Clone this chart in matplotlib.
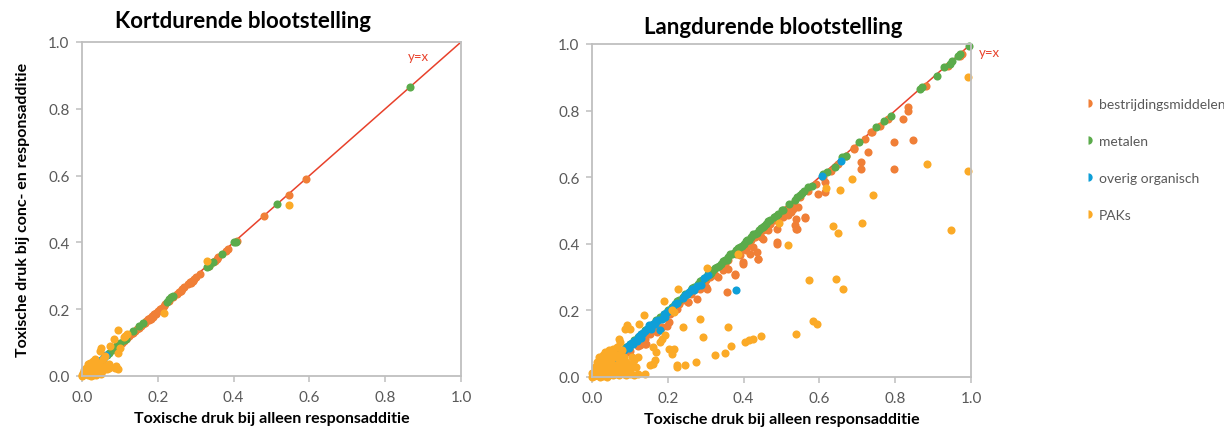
import matplotlib.pyplot as plt
from matplotlib.lines import Line2D

# kleuren (Excel-achtig)
C_BEST = '#F07F37'
C_MET = '#5BAB4B'
C_ORG = '#0E9FD8'
C_PAK = '#FBAA27'
C_LINE = '#E8412B'
GRID_GREY = '#BFBFBF'
TXT_GREY = '#595959'

series_names = ['bestrijdingsmiddelen', 'metalen', 'overig organisch', 'PAKs']
ticks = [0.0, 0.2, 0.4, 0.6, 0.8, 1.0]
tick_labels = ['0.0', '0.2', '0.4', '0.6', '0.8', '1.0']

# ---- Kortdurende blootstelling: (responsadditie, conc- en responsadditie)
kort_best = [(0.100, 0.095), (0.105, 0.100), (0.110, 0.105), (0.115, 0.110), (0.120, 0.115),
             (0.125, 0.120), (0.130, 0.125), (0.135, 0.130), (0.140, 0.135), (0.145, 0.140),
             (0.150, 0.145), (0.155, 0.150), (0.160, 0.155), (0.165, 0.160), (0.170, 0.165),
             (0.175, 0.170), (0.180, 0.175), (0.182, 0.170), (0.185, 0.180), (0.190, 0.185),
             (0.195, 0.190), (0.200, 0.195), (0.205, 0.200), (0.210, 0.205), (0.215, 0.210),
             (0.220, 0.215), (0.230, 0.225), (0.240, 0.235), (0.250, 0.245), (0.255, 0.250),
             (0.260, 0.255), (0.265, 0.260), (0.270, 0.265), (0.280, 0.275), (0.285, 0.280),
             (0.290, 0.285), (0.295, 0.290), (0.300, 0.295), (0.310, 0.305), (0.335, 0.330),
             (0.345, 0.340), (0.350, 0.345), (0.355, 0.350), (0.360, 0.355), (0.380, 0.375),
             (0.385, 0.380), (0.410, 0.405), (0.480, 0.478), (0.545, 0.543), (0.590, 0.590),
             (0.188, 0.178), (0.178, 0.168), (0.195, 0.185), (0.287, 0.278), (0.292, 0.284)]
kort_met = [(0.865, 0.865), (0.515, 0.515), (0.400, 0.400), (0.405, 0.402), (0.370, 0.365),
            (0.345, 0.340), (0.335, 0.330), (0.330, 0.325), (0.240, 0.240), (0.235, 0.235),
            (0.230, 0.230), (0.225, 0.222), (0.160, 0.160), (0.150, 0.150), (0.135, 0.135),
            (0.115, 0.112), (0.110, 0.108), (0.100, 0.100), (0.090, 0.090), (0.080, 0.078),
            (0.070, 0.068), (0.065, 0.062)]
kort_org = [(0.062, 0.062), (0.058, 0.056), (0.055, 0.052), (0.050, 0.048), (0.047, 0.042),
            (0.043, 0.040), (0.040, 0.036), (0.037, 0.033), (0.033, 0.030), (0.030, 0.028),
            (0.027, 0.025), (0.024, 0.022)]
kort_pak = [(0.545, 0.512), (0.330, 0.345), (0.215, 0.190), (0.095, 0.137), (0.118, 0.125),
            (0.113, 0.120), (0.110, 0.118), (0.085, 0.112), (0.075, 0.090), (0.100, 0.085),
            (0.095, 0.068), (0.050, 0.085), (0.048, 0.075), (0.060, 0.060), (0.055, 0.050),
            (0.090, 0.030), (0.095, 0.022), (0.088, 0.025), (0.070, 0.035), (0.060, 0.030),
            (0.045, 0.040), (0.035, 0.050), (0.030, 0.045), (0.028, 0.038), (0.020, 0.040),
            (0.015, 0.035), (0.040, 0.025), (0.035, 0.020), (0.030, 0.015), (0.025, 0.020),
            (0.020, 0.015), (0.015, 0.020), (0.012, 0.010), (0.010, 0.015), (0.008, 0.005),
            (0.005, 0.008), (0.003, 0.002), (0.002, 0.010), (0.000, 0.003), (0.001, 0.000),
            (0.018, 0.005), (0.022, 0.008), (0.028, 0.010), (0.035, 0.008), (0.040, 0.012),
            (0.045, 0.015), (0.050, 0.005), (0.010, 0.025), (0.006, 0.018), (0.015, 0.002),
            (0.025, 0.000), (0.030, 0.003), (0.038, 0.003), (0.045, 0.020), (0.055, 0.018),
            (0.065, 0.020), (0.070, 0.025)]

# ---- Langdurende blootstelling
lang_best = [(0.100, 0.095), (0.120, 0.110), (0.130, 0.125), (0.150, 0.140), (0.160, 0.150),
             (0.170, 0.165), (0.190, 0.180), (0.200, 0.190), (0.210, 0.205), (0.230, 0.220),
             (0.240, 0.230), (0.260, 0.250), (0.270, 0.260), (0.290, 0.280), (0.300, 0.290),
             (0.310, 0.300), (0.320, 0.310), (0.340, 0.330), (0.350, 0.340), (0.360, 0.350),
             (0.380, 0.370), (0.390, 0.380), (0.400, 0.390), (0.410, 0.400), (0.420, 0.410),
             (0.430, 0.420), (0.440, 0.430), (0.450, 0.440), (0.460, 0.450), (0.470, 0.460),
             (0.480, 0.470), (0.490, 0.480), (0.500, 0.490), (0.510, 0.500), (0.520, 0.510),
             (0.530, 0.520), (0.550, 0.540), (0.570, 0.560), (0.590, 0.580), (0.610, 0.600),
             (0.630, 0.620), (0.650, 0.640), (0.670, 0.665), (0.690, 0.685), (0.720, 0.715),
             (0.740, 0.735), (0.760, 0.755), (0.780, 0.775), (0.880, 0.875), (0.940, 0.935),
             (0.970, 0.965), (0.975, 0.970),
             (0.833, 0.810), (0.833, 0.800), (0.820, 0.775), (0.796, 0.707), (0.846, 0.712),
             (0.796, 0.624), (0.728, 0.677), (0.710, 0.645), (0.710, 0.625), (0.737, 0.735),
             (0.690, 0.687), (0.614, 0.585), (0.595, 0.550), (0.614, 0.555), (0.563, 0.477),
             (0.544, 0.510), (0.530, 0.505), (0.539, 0.475), (0.535, 0.455), (0.541, 0.445),
             (0.518, 0.485), (0.487, 0.445), (0.489, 0.400), (0.434, 0.375), (0.438, 0.355),
             (0.425, 0.390), (0.452, 0.415), (0.399, 0.340), (0.390, 0.365), (0.377, 0.305),
             (0.360, 0.325), (0.355, 0.255), (0.333, 0.300), (0.303, 0.265), (0.276, 0.235),
             (0.254, 0.225), (0.202, 0.165), (0.184, 0.150), (0.154, 0.130), (0.142, 0.100),
             (0.127, 0.095), (0.092, 0.075), (0.398, 0.345), (0.416, 0.370), (0.437, 0.354),
             (0.487, 0.405), (0.539, 0.444), (0.561, 0.480), (0.376, 0.309), (0.302, 0.270),
             (0.253, 0.225), (0.197, 0.153), (0.205, 0.190), (0.179, 0.174), (0.140, 0.114),
             (0.121, 0.093), (0.100, 0.078), (0.139, 0.099), (0.171, 0.135),
             (0.465, 0.440), (0.505, 0.480), (0.525, 0.495), (0.445, 0.420), (0.405, 0.380),
             (0.345, 0.320), (0.325, 0.305), (0.285, 0.265), (0.225, 0.205)]
lang_met = [(0.995, 0.995), (0.970, 0.970), (0.965, 0.965), (0.950, 0.950), (0.945, 0.940),
            (0.930, 0.930), (0.910, 0.905), (0.870, 0.870), (0.865, 0.865), (0.790, 0.785),
            (0.770, 0.770), (0.750, 0.750), (0.705, 0.705), (0.670, 0.665), (0.660, 0.660),
            (0.640, 0.630), (0.620, 0.615), (0.610, 0.610), (0.580, 0.575), (0.570, 0.570),
            (0.560, 0.560), (0.550, 0.548), (0.540, 0.540), (0.520, 0.520), (0.500, 0.500),
            (0.490, 0.490), (0.480, 0.480), (0.470, 0.470), (0.460, 0.460), (0.450, 0.450),
            (0.440, 0.440), (0.430, 0.430), (0.420, 0.420), (0.410, 0.410), (0.400, 0.400),
            (0.390, 0.390), (0.380, 0.380), (0.370, 0.370), (0.360, 0.360), (0.350, 0.350),
            (0.340, 0.340), (0.330, 0.330), (0.320, 0.320), (0.310, 0.310), (0.300, 0.300),
            (0.290, 0.290), (0.280, 0.280), (0.270, 0.270), (0.260, 0.260), (0.250, 0.250),
            (0.240, 0.240), (0.230, 0.230), (0.220, 0.220), (0.210, 0.210), (0.200, 0.200),
            (0.190, 0.190), (0.180, 0.180), (0.170, 0.170), (0.160, 0.160), (0.150, 0.150),
            (0.140, 0.140), (0.130, 0.130), (0.120, 0.120), (0.110, 0.110), (0.100, 0.100),
            (0.090, 0.090), (0.080, 0.080), (0.070, 0.070), (0.060, 0.060), (0.050, 0.050),
            (0.455, 0.452), (0.435, 0.432), (0.415, 0.412), (0.395, 0.392), (0.375, 0.372),
            (0.355, 0.352), (0.335, 0.332), (0.315, 0.312), (0.485, 0.482), (0.505, 0.502),
            (0.465, 0.468), (0.445, 0.448), (0.425, 0.428), (0.405, 0.408), (0.385, 0.388),
            (0.365, 0.368), (0.345, 0.348), (0.325, 0.328), (0.305, 0.308), (0.285, 0.288),
            (0.265, 0.268), (0.245, 0.248), (0.225, 0.228), (0.535, 0.532), (0.555, 0.552)]
lang_org = [(0.658, 0.650), (0.608, 0.605), (0.380, 0.260), (0.307, 0.305), (0.296, 0.297),
            (0.287, 0.275), (0.263, 0.265), (0.255, 0.255), (0.250, 0.250), (0.245, 0.245),
            (0.225, 0.222), (0.219, 0.220), (0.210, 0.208), (0.197, 0.195), (0.193, 0.180),
            (0.190, 0.188), (0.180, 0.140), (0.175, 0.170), (0.170, 0.168), (0.160, 0.158),
            (0.149, 0.155), (0.145, 0.145), (0.140, 0.138), (0.135, 0.132), (0.130, 0.128),
            (0.125, 0.122), (0.120, 0.118), (0.115, 0.112), (0.110, 0.108), (0.105, 0.102),
            (0.100, 0.098), (0.095, 0.092), (0.090, 0.088), (0.085, 0.082), (0.080, 0.078),
            (0.075, 0.072), (0.070, 0.068), (0.065, 0.062), (0.060, 0.058), (0.055, 0.053),
            (0.050, 0.050), (0.185, 0.175), (0.165, 0.158), (0.155, 0.145), (0.128, 0.118),
            (0.118, 0.108), (0.108, 0.098), (0.098, 0.088), (0.205, 0.200), (0.240, 0.238),
            (0.268, 0.262), (0.278, 0.272)]
lang_pak = [(0.993, 0.900), (0.993, 0.620), (0.947, 0.442), (0.883, 0.640), (0.741, 0.547),
            (0.687, 0.595), (0.654, 0.562), (0.636, 0.452), (0.649, 0.432), (0.713, 0.463),
            (0.617, 0.568), (0.494, 0.463), (0.518, 0.395), (0.384, 0.369), (0.303, 0.327),
            (0.573, 0.290), (0.645, 0.295), (0.662, 0.265), (0.583, 0.167), (0.594, 0.160),
            (0.539, 0.130), (0.447, 0.123), (0.425, 0.115), (0.414, 0.110), (0.404, 0.105),
            (0.366, 0.092), (0.351, 0.073), (0.325, 0.067), (0.275, 0.045), (0.246, 0.035),
            (0.224, 0.035), (0.224, 0.030), (0.294, 0.119), (0.285, 0.175), (0.241, 0.150),
            (0.215, 0.085), (0.360, 0.150), (0.228, 0.265), (0.189, 0.227), (0.138, 0.187),
            (0.088, 0.145), (0.099, 0.145), (0.092, 0.155), (0.123, 0.160), (0.215, 0.195),
            (0.211, 0.200), (0.070, 0.115), (0.075, 0.105), (0.193, 0.125), (0.184, 0.115),
            (0.180, 0.105), (0.202, 0.085), (0.211, 0.070), (0.154, 0.035), (0.167, 0.050),
            (0.160, 0.040), (0.140, 0.010), (0.105, 0.035), (0.100, 0.010), (0.160, 0.090),
            (0.170, 0.075), (0.120, 0.060), (0.110, 0.050), (0.115, 0.030), (0.095, 0.025),
            (0.090, 0.045), (0.085, 0.060), (0.080, 0.080), (0.065, 0.090), (0.060, 0.070),
            (0.055, 0.085), (0.045, 0.080), (0.040, 0.060), (0.050, 0.050), (0.035, 0.045),
            (0.030, 0.065), (0.025, 0.040), (0.020, 0.050), (0.060, 0.035), (0.070, 0.040),
            (0.075, 0.020), (0.085, 0.010), (0.065, 0.010), (0.050, 0.020), (0.045, 0.005),
            (0.040, 0.030), (0.035, 0.015), (0.030, 0.025), (0.025, 0.010), (0.020, 0.025),
            (0.015, 0.035), (0.015, 0.010), (0.010, 0.020), (0.010, 0.005), (0.005, 0.015),
            (0.005, 0.002), (0.002, 0.008), (0.000, 0.000), (0.001, 0.012), (0.020, 0.000),
            (0.030, 0.002), (0.040, 0.000), (0.055, 0.005), (0.065, 0.025), (0.080, 0.030),
            (0.100, 0.020), (0.110, 0.005), (0.008, 0.030), (0.012, 0.045), (0.025, 0.055),
            (0.045, 0.065), (0.055, 0.060), (0.070, 0.055), (0.075, 0.070), (0.090, 0.005),
            (0.095, 0.040), (0.105, 0.060), (0.035, 0.075), (0.028, 0.020), (0.050, 0.035),
            (0.060, 0.015), (0.072, 0.005), (0.080, 0.045), (0.018, 0.060), (0.012, 0.028),
            (0.038, 0.050), (0.042, 0.040), (0.068, 0.065), (0.085, 0.025), (0.120, 0.010)]

panels = [
    ('Kortdurende blootstelling', [kort_best, kort_met, kort_org, kort_pak], 0.425, 11),
    ('Langdurende blootstelling', [lang_best, lang_met, lang_org, lang_pak], 0.478, 8),
]
colors = [C_BEST, C_MET, C_ORG, C_PAK]

plt.rcParams['font.family'] = ['Lato', 'DejaVu Sans']

fig = plt.figure(figsize=(12.24, 4.31), dpi=100)
ax1 = fig.add_axes([0.067, 0.1253, 0.3097, 0.775])
ax2 = fig.add_axes([0.4837, 0.123, 0.3096, 0.7726])

for ax, (title, data, tx, tpad) in zip([ax1, ax2], panels):
    ax.plot([0, 1], [0, 1], color=C_LINE, lw=1.1, zorder=1)
    for pts, col in zip(data, colors):
        xs = [p[0] for p in pts]
        ys = [p[1] for p in pts]
        ax.scatter(xs, ys, s=34, color=col, linewidths=0, zorder=2, clip_on=False)
    ax.set_xlim(0, 1)
    ax.set_ylim(0, 1)
    ax.set_xticks(ticks)
    ax.set_xticklabels(tick_labels)
    ax.set_yticks(ticks)
    ax.set_yticklabels(tick_labels)
    ax.tick_params(direction='out', length=4, width=1.1, color=GRID_GREY,
                   labelcolor=TXT_GREY, labelsize=11)
    ax.tick_params(axis='x', pad=6)
    ax.tick_params(axis='y', pad=5)
    for sp in ax.spines.values():
        sp.set_color(GRID_GREY)
        sp.set_linewidth(1.3)
    ax.set_title(title, fontsize=16, fontweight='bold', pad=tpad, x=tx)
    ax.set_xlabel('Toxische druk bij alleen responsadditie', fontsize=11.5,
                  fontweight='bold', labelpad=5)

ax1.set_ylabel('Toxische druk bij conc- en responsadditie', fontsize=11.5,
               fontweight='bold', labelpad=13)
ax1.text(0.887, 0.958, 'y=x', color=C_LINE, fontsize=9.5, ha='center', va='center')
ax2.text(1.021, 0.976, 'y=x', color=C_LINE, fontsize=9.5, ha='left', va='center')

handles = [Line2D([], [], ls='none', marker='o', markersize=6, color=c,
                  fillstyle='right', markerfacecoloralt='none', markeredgewidth=0)
           for c in colors]
fig.legend(handles, series_names, loc='upper left', bbox_to_anchor=(0.875, 0.80),
           frameon=False, fontsize=10, labelcolor=TXT_GREY, handlelength=0.6,
           handletextpad=0.5, labelspacing=1.8)

fig.savefig('out.png', dpi=100)
